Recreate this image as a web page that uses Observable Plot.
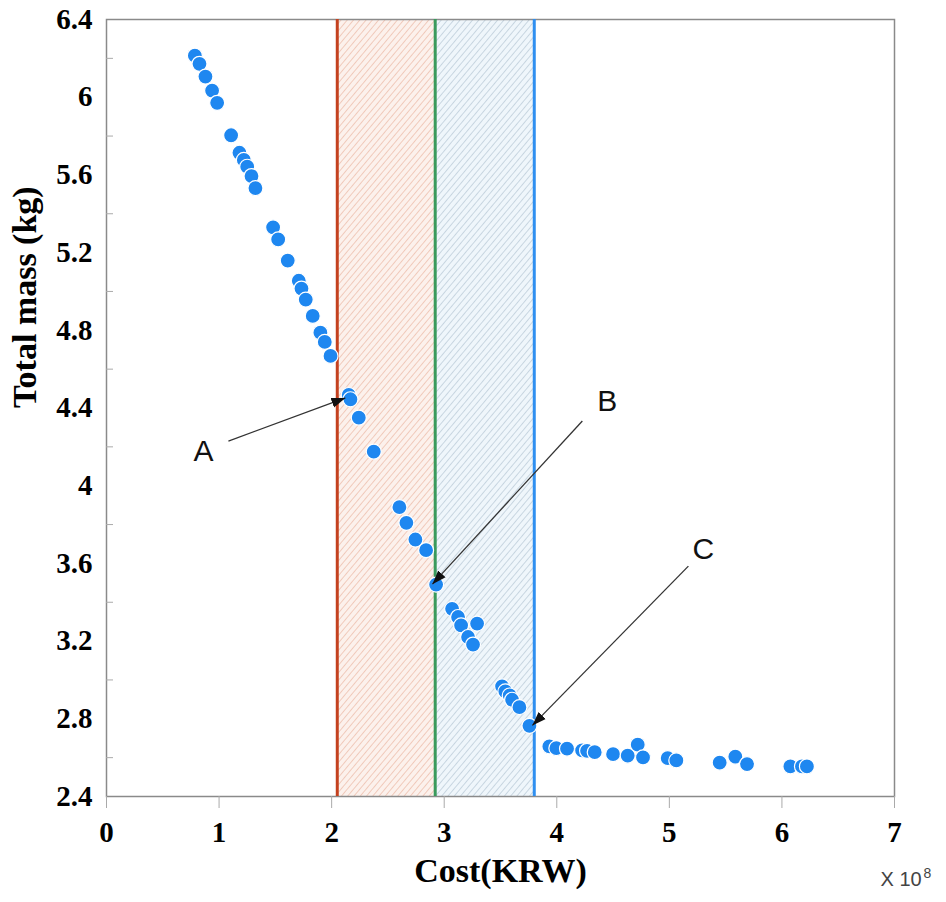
<!DOCTYPE html>
<html>
<head>
<meta charset="utf-8">
<script src="https://cdn.jsdelivr.net/npm/d3@7"></script>
<script src="https://cdn.jsdelivr.net/npm/@observablehq/plot@0.6"></script>
<style>
  body { margin: 0; background: #fff; }
  #chart { width: 946px; height: 902px; }
</style>
</head>
<body>
<div id="chart"></div>
<script>
// Cost (x 10^8 KRW)
const cost = [0.785, 0.826, 0.879, 0.938, 0.983, 1.107, 1.181, 1.22, 1.25, 1.288, 1.323,
  1.48, 1.525, 1.61, 1.708, 1.732, 1.77, 1.832, 1.9, 1.939, 1.99,
  2.152, 2.167, 2.241, 2.374, 2.602, 2.664, 2.744, 2.839, 2.928,
  3.07, 3.123, 3.15, 3.292, 3.212, 3.256,
  3.514, 3.543, 3.582, 3.603, 3.668, 3.757,
  3.934, 3.996, 4.091, 4.225, 4.269, 4.337, 4.5, 4.63, 4.719, 4.766,
  4.985, 5.062, 5.447, 5.586, 5.69, 6.075, 6.178, 6.222];
// Total mass (kg)
const mass = [6.214, 6.172, 6.106, 6.034, 5.971, 5.804, 5.714, 5.677, 5.642, 5.594, 5.532,
  5.33, 5.268, 5.159, 5.055, 5.015, 4.958, 4.874, 4.788, 4.74, 4.668,
  4.467, 4.445, 4.35, 4.175, 3.89, 3.809, 3.723, 3.668, 3.491,
  3.366, 3.324, 3.281, 3.29, 3.221, 3.182,
  2.967, 2.941, 2.92, 2.898, 2.86, 2.764,
  2.658, 2.649, 2.646, 2.637, 2.635, 2.628, 2.618, 2.61, 2.667, 2.601,
  2.598, 2.586, 2.574, 2.605, 2.567, 2.555, 2.555, 2.555];

const xTicks = [0, 1, 2, 3, 4, 5, 6, 7];
const yTicks = [2.4, 2.8, 3.2, 3.6, 4.0, 4.4, 4.8, 5.2, 5.6, 6.0, 6.4];
const yMinor = [2.6, 3.0, 3.4, 3.8, 4.2, 4.6, 5.0, 5.4, 5.8, 6.2];

// Design limits (vertical lines)
const limitCost = [2.05, 2.92, 3.80];
const limitColors = ["#c4411f", "#3a9a5c", "#2f8ff0"];

// Hatched bands
const bandStart = [2.05, 2.92];
const bandEnd = [2.92, 3.80];
const bandPattern = ["url(#hatchRed)", "url(#hatchBlue)"];

// Annotation labels and arrows
const labelText = ["A", "B", "C"];
const labelX = [0.861, 4.449, 5.302];
const labelY = [4.178, 4.436, 3.673];
const arrowX1 = [1.083, 4.227, 5.169];
const arrowY1 = [4.23, 4.333, 3.586];
const arrowX2 = [2.122, 2.895, 3.783];
const arrowY2 = [4.452, 3.493, 2.766];

const points = cost.map((c, i) => ({cost: c, mass: mass[i]}));
const bands = bandStart.map((s, i) => ({x1: s, x2: bandEnd[i], fill: bandPattern[i]}));
const limits = limitCost.map((c, i) => ({x: c, color: limitColors[i]}));
const labels = labelText.map((t, i) => ({text: t, x: labelX[i], y: labelY[i]}));
const arrows = arrowX1.map((x, i) => ({x1: x, y1: arrowY1[i], x2: arrowX2[i], y2: arrowY2[i]}));

const serif = "Liberation Serif, Times New Roman, serif";
const sans = "Liberation Sans, Arial, sans-serif";

const plot = Plot.plot({
  width: 946,
  height: 902,
  marginLeft: 106,
  marginRight: 52,
  marginTop: 19,
  marginBottom: 106,
  style: {background: "#fff", color: "#000"},
  x: {domain: [0, 7]},
  y: {domain: [2.4, 6.4]},
  marks: [
    Plot.rect(bands, {x1: "x1", x2: "x2", fill: "fill"}),
    Plot.frame({stroke: "#8a8a8a", strokeWidth: 1.5}),
    Plot.ruleX(limits, {x: "x", stroke: "color", strokeWidth: 3}),
    Plot.axisX({ticks: xTicks, tickSize: 12, tickPadding: 13, stroke: "#aaa", tickFormat: d => String(d),
      fontSize: 29, fontWeight: "bold", fontFamily: serif, label: null}),
    Plot.axisY({ticks: yTicks, tickSize: 0, tickPadding: 14, tickFormat: d => (d === 4 ? "4" : d === 6 ? "6" : d.toFixed(1)),
      fontSize: 29, fontWeight: "bold", fontFamily: serif, label: null}),
    Plot.axisY(yMinor, {tickSize: -7, stroke: "#aaa", tickFormat: () => "", label: null}),
    Plot.dot(points, {x: "cost", y: "mass", r: 7.5, fill: "#1e87f0", stroke: "#fff", strokeWidth: 1.2}),
    Plot.link(arrows, {x1: "x1", y1: "y1", x2: "x2", y2: "y2", stroke: "#333", strokeWidth: 1.3, markerEnd: "arrow"}),
    Plot.text(labels, {x: "x", y: "y", text: "text", fontSize: 30, fontFamily: sans, fill: "#111"}),
    Plot.text(["Total mass (kg)"], {frameAnchor: "left", text: d => d, rotate: -90, dx: -81,
      fontSize: 34, fontWeight: "bold", fontFamily: serif}),
    Plot.text(["Cost(KRW)"], {frameAnchor: "bottom", text: d => d, dy: 85,
      fontSize: 34, fontWeight: "bold", fontFamily: serif}),
    Plot.text(["X 10"], {frameAnchor: "bottom-right", text: d => d, textAnchor: "start", dx: -14, dy: 89,
      fontSize: 20, fontFamily: sans, fill: "#444"}),
    Plot.text(["8"], {frameAnchor: "bottom-right", text: d => d, textAnchor: "start", dx: 29, dy: 81,
      fontSize: 14, fontFamily: sans, fill: "#444"})
  ]
});

// hatch pattern definitions
const ns = "http://www.w3.org/2000/svg";
const defs = document.createElementNS(ns, "defs");
function addPattern(id, bg, line) {
  const p = document.createElementNS(ns, "pattern");
  p.setAttribute("id", id);
  p.setAttribute("patternUnits", "userSpaceOnUse");
  p.setAttribute("width", "4.8");
  p.setAttribute("height", "4.8");
  p.setAttribute("patternTransform", "rotate(40)");
  const r = document.createElementNS(ns, "rect");
  r.setAttribute("width", "4.8"); r.setAttribute("height", "4.8"); r.setAttribute("fill", bg);
  const l = document.createElementNS(ns, "line");
  l.setAttribute("x1", "0"); l.setAttribute("y1", "0"); l.setAttribute("x2", "0"); l.setAttribute("y2", "4.8");
  l.setAttribute("stroke", line); l.setAttribute("stroke-width", "1.1");
  p.appendChild(r); p.appendChild(l);
  defs.appendChild(p);
}
addPattern("hatchRed", "#fcf1ec", "#e8ab95");
addPattern("hatchBlue", "#eff6fb", "#a9bccd");
plot.insertBefore(defs, plot.firstChild);

// filled triangular arrowheads
plot.querySelectorAll("marker").forEach(m => {
  m.setAttribute("viewBox", "-14 -7 14 14");
  m.setAttribute("markerUnits", "userSpaceOnUse");
  m.setAttribute("markerWidth", "14");
  m.setAttribute("markerHeight", "14");
  m.setAttribute("fill", "#111");
  m.setAttribute("stroke", "none");
  m.querySelectorAll("path").forEach(p => p.setAttribute("d", "M-14,-5L0,0L-14,5Z"));
});

document.getElementById("chart").appendChild(plot);
</script>
</body>
</html>
